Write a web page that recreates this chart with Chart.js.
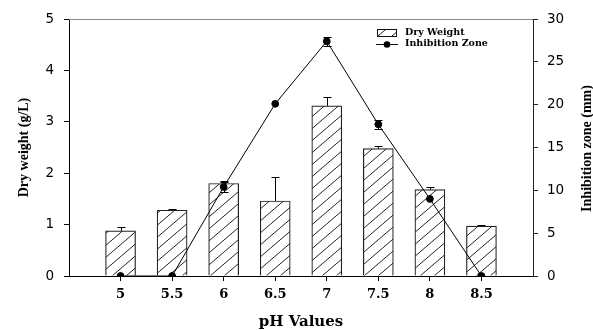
<!DOCTYPE html>
<html>
<head>
<meta charset="utf-8">
<script src="https://cdn.jsdelivr.net/npm/chart.js@4.4.1/dist/chart.umd.min.js"></script>
<style>
  html, body { margin: 0; padding: 0; background: #fff; }
  canvas { display: block; }
</style>
</head>
<body>
<canvas id="chart" width="593" height="330"></canvas>
<script>
// pH categories and measured values
const phValues = ['5', '5.5', '6', '6.5', '7', '7.5', '8', '8.5'];
const dryWeight = [0.88, 1.28, 1.80, 1.46, 3.31, 2.48, 1.68, 0.97];          // g/L
const dryWeightErr = [0.08, 0.03, 0.05, 0.46, 0.17, 0.04, 0.05, 0.02];
const inhibitionZone = [0, 0, 10.4, 20.1, 27.4, 17.7, 9.0, 0];               // mm
const inhibitionZoneErr = [0, 0, 0.6, 0, 0.5, 0.55, 0, 0];
const dryWeightTicks = [0, 1, 2, 3, 4, 5];
const inhibitionTicks = [0, 5, 10, 15, 20, 25, 30];

const xTitle = 'pH Values';
const leftTitle = 'Dry weight (g/L)';
const rightTitle = 'Inhibition zone (mm)';

// one empty slot on each side of the categories
const axisLabels = ['', ...phValues, ''];
const pad = arr => [null, ...arr, null];

// diagonal hatch fill for the bars
function makeHatch() {
  const w = 14, h = 12;
  const c = document.createElement('canvas');
  c.width = w; c.height = h;
  const g = c.getContext('2d');
  g.fillStyle = '#fff';
  g.fillRect(0, 0, w, h);
  g.strokeStyle = '#222';
  g.lineWidth = 1;
  g.beginPath();
  for (const dx of [-w, 0, w]) {
    g.moveTo(dx, h);
    g.lineTo(dx + w, 0);
  }
  g.stroke();
  return g.createPattern(c, 'repeat');
}
const hatch = makeHatch();

const serifVert = { family: '"Liberation Serif", "Times New Roman", serif', size: 14, weight: 'bold' };
const serifWide = '"DejaVu Serif", serif';
const sansTicks = { family: '"DejaVu Sans", sans-serif', size: 13.5 };

// error bars drawn right after each dataset
const errorBars = {
  id: 'errorBars',
  afterDatasetDraw(chart, args) {
    const ds = chart.data.datasets[args.index];
    if (!ds.errors) return;
    const ctx = chart.ctx;
    const x = chart.scales.x;
    const y = chart.scales[ds.yAxisID];
    ctx.save();
    ctx.strokeStyle = '#000';
    ctx.lineWidth = 1;
    ds.data.forEach((v, i) => {
      const e = ds.errors[i];
      if (v == null || !e) return;
      const px = Math.round(x.getPixelForValue(i)) + 0.5;
      const top = Math.round(y.getPixelForValue(v + e)) + 0.5;
      const bot = ds.type === 'bar' ? y.getPixelForValue(v) : Math.round(y.getPixelForValue(v - e)) + 0.5;
      ctx.beginPath();
      ctx.moveTo(px, bot); ctx.lineTo(px, top);
      ctx.moveTo(px - 4, top); ctx.lineTo(px + 4, top);
      if (ds.type !== 'bar') { ctx.moveTo(px - 4, bot); ctx.lineTo(px + 4, bot); }
      ctx.stroke();
    });
    ctx.restore();
  }
};

// top frame line, right axis title and in-plot legend
const decorations = {
  id: 'decorations',
  afterDraw(chart) {
    const ctx = chart.ctx;
    const a = chart.chartArea;
    ctx.save();
    ctx.strokeStyle = '#8a8a8a';
    ctx.lineWidth = 1.2;
    ctx.beginPath();
    ctx.moveTo(a.left, a.top + 0.5); ctx.lineTo(a.right, a.top + 0.5);
    ctx.stroke();

    // right axis title, reading upwards
    ctx.save();
    ctx.translate(587, (a.top + a.bottom) / 2 + 1);
    ctx.rotate(-Math.PI / 2);
    ctx.font = 'bold 14px "Liberation Serif", "Times New Roman", serif';
    ctx.fillStyle = '#000';
    ctx.textAlign = 'center';
    ctx.textBaseline = 'middle';
    ctx.fillText(rightTitle, 0, 0);
    ctx.restore();

    // legend
    const [barDs, lineDs] = chart.data.datasets;
    const sx = a.right - 156, sw = 19, tx = a.right - 128;
    const y1 = 33, y2 = 44;
    ctx.fillStyle = hatch;
    ctx.fillRect(sx, y1 - 4, sw, 8);
    ctx.strokeStyle = '#111';
    ctx.lineWidth = 1;
    ctx.strokeRect(sx + 0.5, y1 - 3.5, sw, 7);
    ctx.beginPath();
    ctx.moveTo(sx - 1, y2 + 0.5); ctx.lineTo(sx + sw + 2, y2 + 0.5);
    ctx.stroke();
    ctx.fillStyle = '#000';
    ctx.beginPath();
    ctx.arc(sx + sw / 2 + 0.5, y2 + 0.5, 3.3, 0, Math.PI * 2);
    ctx.fill();
    ctx.font = 'bold 9.5px ' + serifWide;
    ctx.textAlign = 'left';
    ctx.textBaseline = 'middle';
    ctx.fillText(barDs.label, tx, y1);
    ctx.fillText(lineDs.label, tx, y2);
    ctx.restore();
  }
};

const hideEdge = c => (c.index === 0 || c.index === axisLabels.length - 1) ? 'rgba(0,0,0,0)' : '#000';

new Chart(document.getElementById('chart'), {
  data: {
    labels: axisLabels,
    datasets: [
      {
        type: 'bar',
        label: 'Dry Weight',
        data: pad(dryWeight),
        errors: pad(dryWeightErr),
        yAxisID: 'y',
        backgroundColor: hatch,
        borderColor: '#222',
        borderWidth: 1.2,
        barThickness: 30,
        order: 2
      },
      {
        type: 'line',
        label: 'Inhibition Zone',
        data: pad(inhibitionZone),
        errors: pad(inhibitionZoneErr),
        yAxisID: 'y1',
        borderColor: '#000',
        borderWidth: 1,
        pointRadius: 3.4,
        pointBackgroundColor: '#000',
        pointBorderColor: '#000',
        pointBorderWidth: 1,
        tension: 0,
        order: 1
      }
    ]
  },
  options: {
    responsive: false,
    animation: false,
    devicePixelRatio: 1,
    layout: { padding: { top: 19, left: 0, right: 0, bottom: 0 } },
    plugins: { legend: { display: false }, tooltip: { enabled: false } },
    scales: {
      x: {
        type: 'category',
        offset: false,
        grid: { offset: false, drawOnChartArea: false, tickLength: 5, color: hideEdge, tickColor: hideEdge },
        border: { color: '#000', width: 1 },
        ticks: {
          autoSkip: false, maxRotation: 0, padding: 6, color: '#000',
          font: { family: serifWide, size: 13, weight: 'bold' }
        },
        title: {
          display: true, text: xTitle, color: '#000',
          font: { family: serifWide, size: 15, weight: 'bold', lineHeight: 1 },
          padding: { top: 0, bottom: 0 }
        },
        afterFit: s => { s.height = 54; }
      },
      y: {
        position: 'left',
        min: 0, max: 5,
        afterBuildTicks: s => { s.ticks = dryWeightTicks.map(v => ({ value: v })); },
        grid: { drawOnChartArea: false, tickLength: 5, color: '#000' },
        border: { color: '#000', width: 1 },
        ticks: { padding: 10, color: '#000', font: sansTicks },
        title: {
          display: true, text: leftTitle, color: '#000',
          font: serifVert, padding: { top: 16, bottom: 0 }
        },
        afterFit: s => { s.width = 69; }
      },
      y1: {
        position: 'right',
        min: 0, max: 30,
        afterBuildTicks: s => { s.ticks = inhibitionTicks.map(v => ({ value: v })); },
        grid: { drawOnChartArea: false, tickLength: 5, color: '#222' },
        border: { color: '#222', width: 1 },
        ticks: { padding: 9, color: '#000', font: sansTicks },
        afterFit: s => { s.width = 60; }
      }
    }
  },
  plugins: [errorBars, decorations]
});
</script>
</body>
</html>
